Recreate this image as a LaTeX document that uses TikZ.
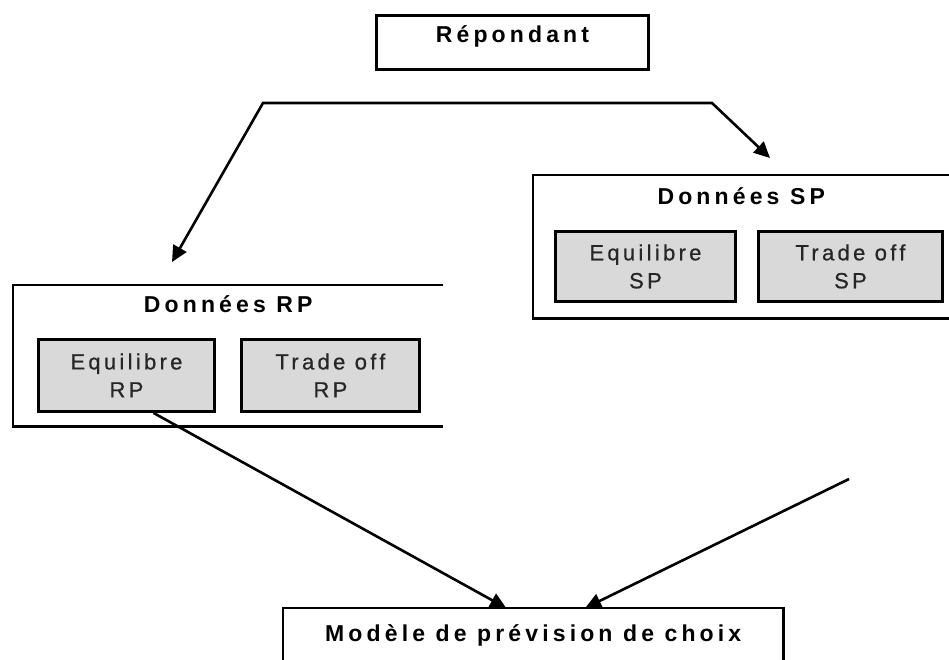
\documentclass[tikz,border=0pt]{standalone}
\usepackage{fontspec}
\setmainfont{Liberation Sans}
\newfontfamily\titlefont{Liberation Sans}[LetterSpace=18]
\newfontfamily\innerfont{Liberation Sans}[LetterSpace=15,FakeBold=0.6]
\usetikzlibrary{arrows.meta,calc}
\tikzset{
  boxline/.style={draw=black, line width=2.9pt},
  titletext/.style={font=\fontsize{23}{28}\titlefont\bfseries, inner sep=0pt},
  inbox/.style={boxline, fill=black!15, inner sep=0pt, align=center,
                font=\fontsize{22}{28}\innerfont, text=black!85, anchor=north west},
  frame/.style={inner sep=0pt, anchor=north west},
  conn/.style={line width=2.6pt, draw=black},
  tip/.style={-{Triangle[length=16pt,width=15pt]}}
}
\begin{document}
\begin{tikzpicture}[x=1pt,y=-1pt]
\useasboundingbox (0,0) rectangle (949,660);

% top box
\node[boxline, titletext, anchor=north west, minimum width=272pt,
      text height=27pt, text depth=27pt] (rep) at (375,14) {Répondant};

% RP group
\node[frame, minimum width=430pt, minimum height=141pt] (rp) at (13,285) {};
\draw[boxline] (rp.north east) -- (rp.north west) -- (rp.south west) -- (rp.south east);
\node[titletext, anchor=base] (rptitle) at ($(rp.north)+(0,27)$) {Données RP};
\node[inbox, minimum width=176pt, minimum height=72pt] (eqrp) at (37,338) {Equilibre\\RP};
\node[inbox, minimum width=178pt, minimum height=72pt] (torp) at (240,338) {Trade off\\RP};

% SP group
\node[frame, minimum width=416pt, minimum height=143pt] (sp) at (533,175) {};
\draw[boxline] (sp.north east) -- (sp.north west) -- (sp.south west) -- (sp.south east);
\node[titletext, anchor=base] (sptitle) at ($(sp.north)+(0,30)$) {Données SP};
\node[inbox, minimum width=180pt, minimum height=70pt] (eqsp) at (554,230) {Equilibre\\SP};
\node[inbox, minimum width=184pt, minimum height=70pt] (tosp) at (757,230) {Trade off\\SP};

% bottom box
\node[frame, titletext, anchor=north west, minimum width=500pt,
      text height=33pt, text depth=47pt] (model) at (283,608) {Modèle de prévision de choix};
\draw[boxline] (model.south west) -- (model.north west) -- (model.north east) -- (model.south east);

% split connector from the respondent
\coordinate (hl) at (263,103);
\coordinate (hr) at (712,103);
\coordinate (tipl) at (172,262);
\coordinate (tipr) at (770,158);
\draw[conn, {Triangle[length=16pt,width=15pt]}-{Triangle[length=16pt,width=15pt]}]
  (tipl) -- (hl) -- (hr) -- (tipr);

% connectors into the model
\coordinate (spout) at (849,479);
\draw[conn, tip] ([xshift=27pt]eqrp.south) -- ([xshift=-27pt]model.north);
\draw[conn, tip] (spout) -- ([xshift=52pt]model.north);
\end{tikzpicture}
\end{document}
